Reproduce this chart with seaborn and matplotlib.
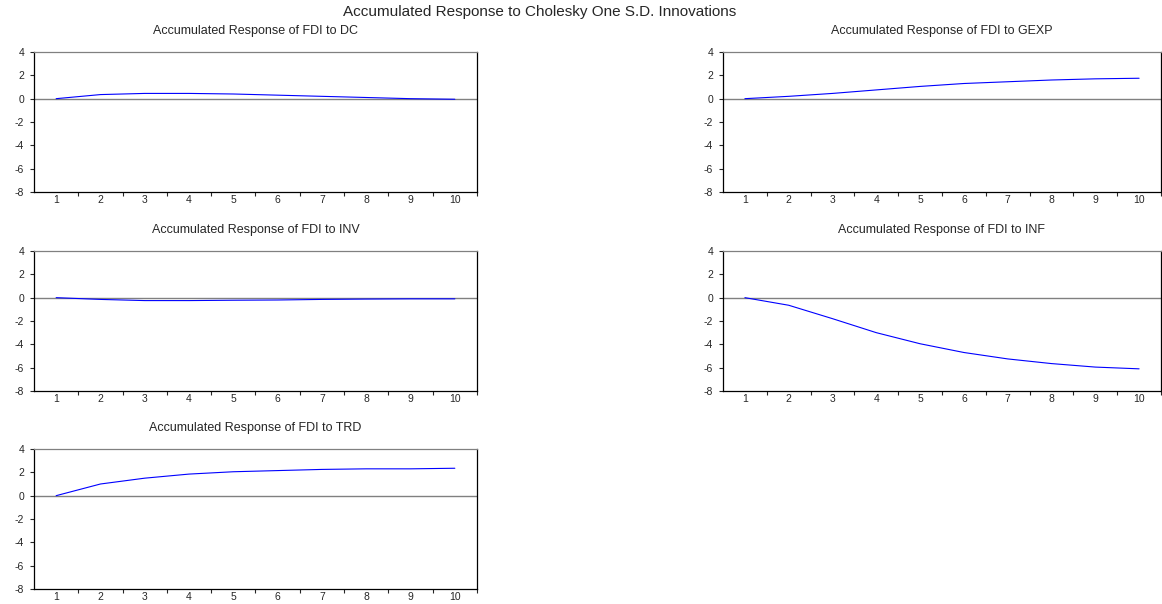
import numpy as np
import pandas as pd
import seaborn as sns
import matplotlib.pyplot as plt
from matplotlib.ticker import FixedLocator, NullFormatter

sns.set_style("ticks")
plt.rcParams['font.family'] = ['Liberation Sans', 'DejaVu Sans']

# periods and accumulated responses of FDI
periods = list(range(1, 11))
resp_dc = [0.0, 0.35, 0.45, 0.45, 0.40, 0.30, 0.20, 0.10, 0.0, -0.05]
resp_gexp = [0.0, 0.20, 0.45, 0.75, 1.05, 1.30, 1.45, 1.60, 1.70, 1.75]
resp_inv = [0.0, -0.15, -0.25, -0.25, -0.22, -0.20, -0.15, -0.12, -0.10, -0.10]
resp_inf = [0.0, -0.65, -1.80, -3.00, -3.95, -4.70, -5.25, -5.65, -5.95, -6.10]
resp_trd = [0.0, 1.00, 1.50, 1.85, 2.05, 2.15, 2.25, 2.30, 2.30, 2.35]

titles = ["Accumulated Response of FDI to DC", "Accumulated Response of FDI to GEXP",
          "Accumulated Response of FDI to INV", "Accumulated Response of FDI to INF",
          "Accumulated Response of FDI to TRD"]
series = [resp_dc, resp_gexp, resp_inv, resp_inf, resp_trd]

W, H = 1162, 604
fig = plt.figure(figsize=(W / 100, H / 100), dpi=100)

# axes boxes in pixels: left, top, right, bottom
boxes = [(34, 52, 477, 192), (723, 52, 1161, 192),
         (34, 251, 477, 391), (723, 251, 1161, 391),
         (34, 449, 477, 589)]

for (l, t, r, b), title, vals in zip(boxes, titles, series):
    ax = fig.add_axes([l / W, 1 - b / H, (r - l) / W, (b - t) / H])
    df = pd.DataFrame({"period": periods, "resp": vals})
    ax.axhline(0, color="#808080", lw=1.0, zorder=1)
    sns.lineplot(data=df, x="period", y="resp", ax=ax, color="#0000ff", lw=0.8, zorder=2)
    ax.set_xlim(0.5, 10.5)
    ax.set_ylim(-8, 4)
    ax.set_yticks([-8, -6, -4, -2, 0, 2, 4])
    ax.set_yticklabels(["-8", "-6", "-4", "-2", "0", "2", "4"])
    ax.xaxis.set_major_locator(FixedLocator(np.arange(1.5, 10.6, 1.0)))
    ax.xaxis.set_major_formatter(NullFormatter())
    ax.xaxis.set_minor_locator(FixedLocator(periods))
    ax.set_xticklabels([str(p) for p in periods], minor=True)
    ax.tick_params(axis="x", which="major", length=3, width=0.8, direction="out")
    ax.tick_params(axis="x", which="minor", length=0, labelsize=7.5, pad=2)
    ax.tick_params(axis="y", length=3, width=0.8, labelsize=7.5, pad=4)
    ax.set_xlabel("")
    ax.set_ylabel("")
    for side in ["left", "bottom", "right"]:
        ax.spines[side].set_color("black")
        ax.spines[side].set_linewidth(0.9)
    ax.spines["top"].set_color("#808080")
    ax.spines["top"].set_linewidth(0.9)
    ax.set_title(title, fontsize=9, pad=13)

fig.text(540 / W, 1 - 12 / H, "Accumulated Response to Cholesky One S.D. Innovations",
         ha="center", va="center", fontsize=11)

fig.savefig("out.png", dpi=100)
